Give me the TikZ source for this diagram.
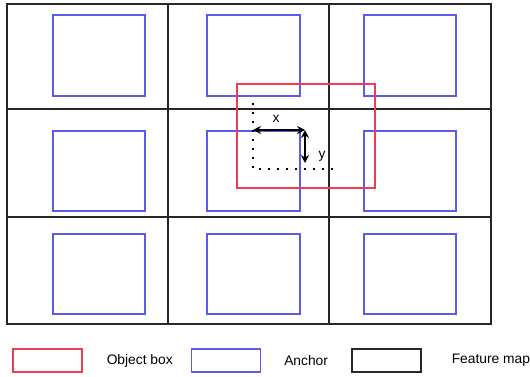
\documentclass[tikz,border=0pt]{standalone}
\usepackage{fontspec}
\setmainfont{Liberation Sans}
\usetikzlibrary{positioning,arrows.meta}
\definecolor{anchorblue}{RGB}{90,90,235}
\definecolor{boxred}{RGB}{240,60,80}
\tikzstyle{every node}=[inner sep=0pt,font=\fontsize{13.8}{16}\selectfont]
\tikzstyle{fmap}=[draw=black!85,line width=1.1pt]
\tikzstyle{anchorbox}=[draw=anchorblue,line width=1.1pt]
\tikzstyle{objbox}=[draw=boxred,line width=1.1pt]
\tikzstyle{guide}=[line width=1.6pt,dash pattern=on 1.6pt off 7.4pt]
\tikzstyle{offset}=[line width=1.4pt,{Stealth[length=8pt,width=8pt]}-{Stealth[length=8pt,width=8pt]}]
\tikzstyle{key}=[minimum width=69pt,minimum height=23pt]

\begin{document}
\begin{tikzpicture}[x=1pt,y=-1pt]
    \useasboundingbox (0,0) rectangle (530,376);

    % feature map cells
    \draw[fmap] (7,4) rectangle (491,324);
    \draw[fmap] (168,4) -- (168,324);
    \draw[fmap] (329,4) -- (329,324);
    \draw[fmap] (7,109) -- (491,109);
    \draw[fmap] (7,217) -- (491,217);

    % anchors, one per cell
    \draw[anchorbox] (53,15) rectangle (145,96);
    \draw[anchorbox] (207,15) rectangle (300,96);
    \draw[anchorbox] (364,15) rectangle (456,96);
    \draw[anchorbox] (53,131) rectangle (145,211);
    \draw[anchorbox] (207,131) rectangle (300,211);
    \draw[anchorbox] (364,131) rectangle (456,211);
    \draw[anchorbox] (53,234) rectangle (145,314);
    \draw[anchorbox] (207,234) rectangle (300,314);
    \draw[anchorbox] (364,234) rectangle (456,314);

    % object box
    \draw[objbox] (237,84) rectangle (375,188);

    % offsets
    \coordinate (gtop) at (253,103);
    \coordinate (gcorner) at (253,169);
    \coordinate (gright) at (338,169);
    \coordinate (xstart) at (253,130);
    \coordinate (xend) at (305,130);
    \coordinate (yend) at (305,163);
    \draw[guide] (gtop) -- (gcorner) -- (gright);
    \draw[offset] (xstart) -- (xend);
    \draw[offset] (xend) -- (yend);
    \node (xlabel) at (276,119) {x};
    \node (ylabel) at (322,156) {y};

    % legend
    \node[key,objbox] (objkey) at (47.5,360.5) {};
    \node[right=24pt of objkey] (objtext) {Object box};
    \node[key,anchorbox] (anchorkey) at (226,360.5) {};
    \node[right=23pt of anchorkey] (anchortext) {Anchor};
    \node[key,fmap] (fmapkey) at (386.5,360.5) {};
    \node[right=30pt of fmapkey] (fmaptext) {Feature map};
\end{tikzpicture}
\end{document}
